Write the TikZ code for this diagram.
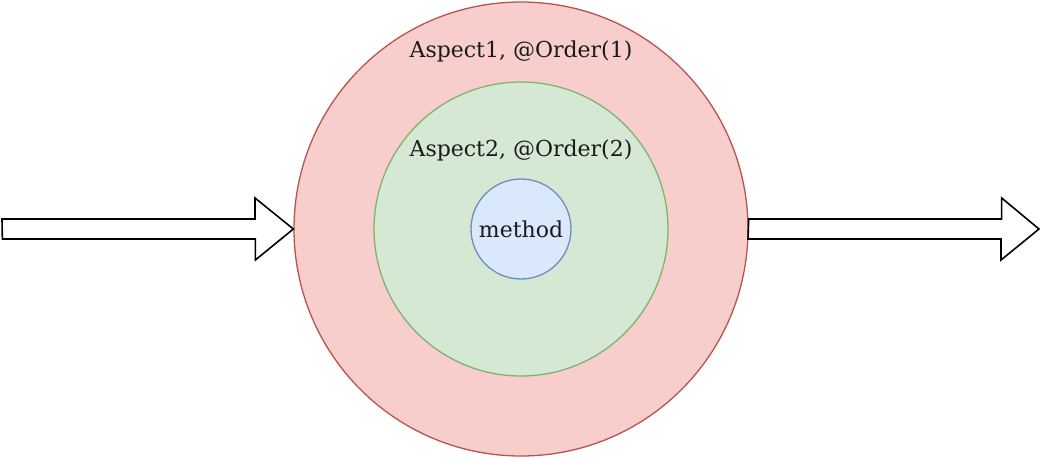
\documentclass[tikz,border=0pt]{standalone}
\usepackage{fontspec}
\setmainfont{DejaVu Serif}
\definecolor{redfill}{HTML}{F8CECC}
\definecolor{reddraw}{HTML}{B85450}
\definecolor{greenfill}{HTML}{D5E8D4}
\definecolor{greendraw}{HTML}{82B366}
\definecolor{bluefill}{HTML}{DAE8FC}
\definecolor{bluedraw}{HTML}{6C8EBF}
\definecolor{textcol}{HTML}{1A1A1A}
\tikzset{
  ring/.style={circle, inner sep=0pt, line width=1.3pt},
  label text/.style={text=textcol, font=\fontsize{22}{26}\selectfont},
  blockarrow/.style={draw=black, fill=white, line width=1.6pt, line join=miter}
}
\begin{document}
\begin{tikzpicture}[x=1pt, y=-1pt]
    \useasboundingbox (0, 0) rectangle (1040, 458);
    % circles
    \node[ring, draw=reddraw, fill=redfill, minimum size=454pt] (outer) at (521, 229) {};
    \node[ring, draw=greendraw, fill=greenfill, minimum size=294pt] (inner) at (521, 229) {};
    \node[ring, draw=bluedraw, fill=bluefill, minimum size=100pt, label text] (core) at (521, 229) {method};
    \node[label text] (asp1) at (521, 51) {Aspect1, @Order(1)};
    \node[label text] (asp2) at (521, 150) {Aspect2, @Order(2)};
    % in and out
    \coordinate (inL) at (2, 229);
    \coordinate (outR) at (1039, 229);
    \draw[blockarrow] (inL) ++(0, -10) -- ++(253, 0) -- ++(0, -21) -- (outer.west)
      -- ++(-38, 31) -- ++(0, -21) -- ++(-253, 0) -- cycle;
    \draw[blockarrow] (outer.east) ++(0, -10) -- ++(253, 0) -- ++(0, -21) -- (outR)
      -- ++(-38, 31) -- ++(0, -21) -- ++(-253, 0) -- cycle;
\end{tikzpicture}
\end{document}
